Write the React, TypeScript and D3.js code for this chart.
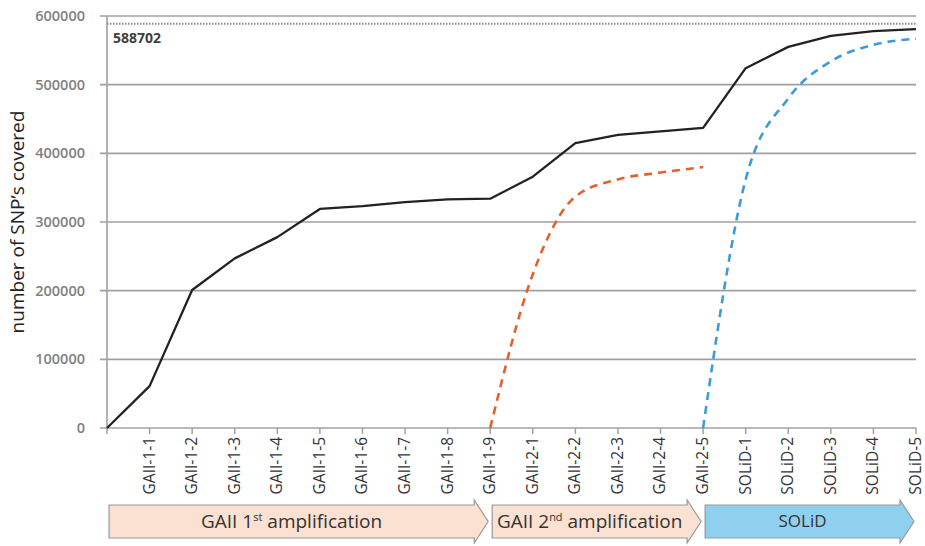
import React from 'react';
import * as d3 from 'd3';

const categories = [
  '', 'GAII-1-1', 'GAII-1-2', 'GAII-1-3', 'GAII-1-4', 'GAII-1-5', 'GAII-1-6', 'GAII-1-7', 'GAII-1-8', 'GAII-1-9',
  'GAII-2-1', 'GAII-2-2', 'GAII-2-3', 'GAII-2-4', 'GAII-2-5',
  'SOLiD-1', 'SOLiD-2', 'SOLiD-3', 'SOLiD-4', 'SOLiD-5',
];
const totalSnps = [
  0, 61000, 201000, 247000, 278000, 319000, 323000, 329000, 333000, 334000,
  366000, 415000, 427000, 432000, 437000, 524000, 555000, 571000, 578000, 581000,
];
const gaii2Categories = ['GAII-1-9', 'GAII-2-1', 'GAII-2-2', 'GAII-2-3', 'GAII-2-4', 'GAII-2-5'];
const gaii2Snps = [0, 224000, 337000, 362000, 372000, 380000];
const solidCategories = ['GAII-2-5', 'SOLiD-1', 'SOLiD-2', 'SOLiD-3', 'SOLiD-4', 'SOLiD-5'];
const solidSnps = [0, 362000, 480000, 534000, 558000, 567000];
const yTicks = [0, 100000, 200000, 300000, 400000, 500000, 600000];
const maxSnps = 588702;

const stages = [
  { from: '', to: 'GAII-1-9', main: 'GAII 1', sup: 'st', rest: ' amplification', fill: '#fbe1d2' },
  { from: 'GAII-1-9', to: 'GAII-2-5', main: 'GAII 2', sup: 'nd', rest: ' amplification', fill: '#fbe1d2' },
  { from: 'GAII-2-5', to: 'SOLiD-5', main: 'SOLiD', sup: '', rest: '', fill: '#8fd0ee' },
];

const W = 925;
const H = 546;
const margin = { left: 107, right: 9, top: 16, bottom: 118 };

export default function App() {
  const x = d3.scalePoint<string>().domain(categories).range([margin.left, W - margin.right]);
  const y = d3.scaleLinear().domain([0, 600000]).range([H - margin.bottom, margin.top]);

  const line = d3.line<[string, number]>().x(d => x(d[0])!).y(d => y(d[1]));
  const smooth = d3.line<[string, number]>().x(d => x(d[0])!).y(d => y(d[1])).curve(d3.curveMonotoneX);

  const totalPts = categories.map((c, i) => [c, totalSnps[i]] as [string, number]);
  const gaii2Pts = gaii2Categories.map((c, i) => [c, gaii2Snps[i]] as [string, number]);
  const solidPts = solidCategories.map((c, i) => [c, solidSnps[i]] as [string, number]);

  const font = '"Open Sans", "DejaVu Sans", sans-serif';
  const y0 = y(0);

  // arrow shape for the stage bands
  const bodyTop = 505, bodyBot = 538, headTop = 500, headBot = 543, headLen = 14;
  const arrowPath = (x0: number, x1: number) => {
    const xa = x0 + 2, xb = x1 - 2;
    const mid = (bodyTop + bodyBot) / 2;
    return `M${xa},${bodyTop}L${xb - headLen},${bodyTop}L${xb - headLen},${headTop}L${xb},${mid}` +
      `L${xb - headLen},${headBot}L${xb - headLen},${bodyBot}L${xa},${bodyBot}Z`;
  };

  return (
    <svg width={W} height={H} style={{ position: 'absolute', left: 0, top: 0, background: '#fff' }} fontFamily={font}>
      {/* grid + y ticks */}
      {yTicks.map(t => (
        <g key={t}>
          <line x1={margin.left - 7} x2={W - margin.right} y1={y(t)} y2={y(t)} stroke="#a0a0a0" strokeWidth={1.6} />
          <text x={margin.left - 22} y={y(t)} dy="0.35em" textAnchor="end" fontSize={14.5} fontWeight={600} fill="#7f7f7f">
            {t}
          </text>
        </g>
      ))}
      <line x1={margin.left} x2={margin.left} y1={y(600000)} y2={y0} stroke="#a0a0a0" strokeWidth={1.6} />

      {/* maximum possible */}
      <line x1={margin.left} x2={W - margin.right} y1={y(maxSnps)} y2={y(maxSnps)} stroke="#8c8c8c" strokeWidth={2} strokeDasharray="1.5,1.5" />
      <text x={margin.left + 6} y={y(maxSnps) + 19} fontSize={14} fontWeight={700} fill="#404040">{maxSnps}</text>

      {/* x ticks + labels */}
      {categories.map(c => (
        <g key={c || 'origin'} transform={`translate(${x(c)},${y0})`}>
          <line y1={0} y2={6} stroke="#a0a0a0" strokeWidth={1.5} />
          {c && (
            <text transform="rotate(-90)" x={-9} dy="0.32em" textAnchor="end" fontSize={15.5} fill="#333">{c}</text>
          )}
        </g>
      ))}

      {/* series */}
      <path d={line(totalPts)!} fill="none" stroke="#222" strokeWidth={2.3} strokeLinejoin="round" />
      <path d={smooth(gaii2Pts)!} fill="none" stroke="#e2622e" strokeWidth={2.6} strokeDasharray="8,6" />
      <path d={smooth(solidPts)!} fill="none" stroke="#3b9cd6" strokeWidth={2.6} strokeDasharray="8,6" />

      {/* y axis title */}
      <text transform={`translate(24,${(y(600000) + y0) / 2}) rotate(-90)`} textAnchor="middle" fontSize={19} fill="#222">
        number of SNP’s covered
      </text>

      {/* stage arrows */}
      {stages.map(s => {
        const x0 = x(s.from)!, x1 = x(s.to)!;
        return (
          <g key={s.main}>
            <path d={arrowPath(x0, x1)} fill={s.fill} stroke="#9a9a9a" strokeWidth={1.2} />
            <text x={(x0 + x1) / 2 - headLen / 2} y={(bodyTop + bodyBot) / 2} dy="0.35em" textAnchor="middle"
              fontSize={s.sup ? 19 : 17} fill="#333">
              {s.main}
              {s.sup && <tspan fontSize={11} dy={-7}>{s.sup}</tspan>}
              {s.rest && <tspan dy={7}>{s.rest}</tspan>}
            </text>
          </g>
        );
      })}
    </svg>
  );
}
